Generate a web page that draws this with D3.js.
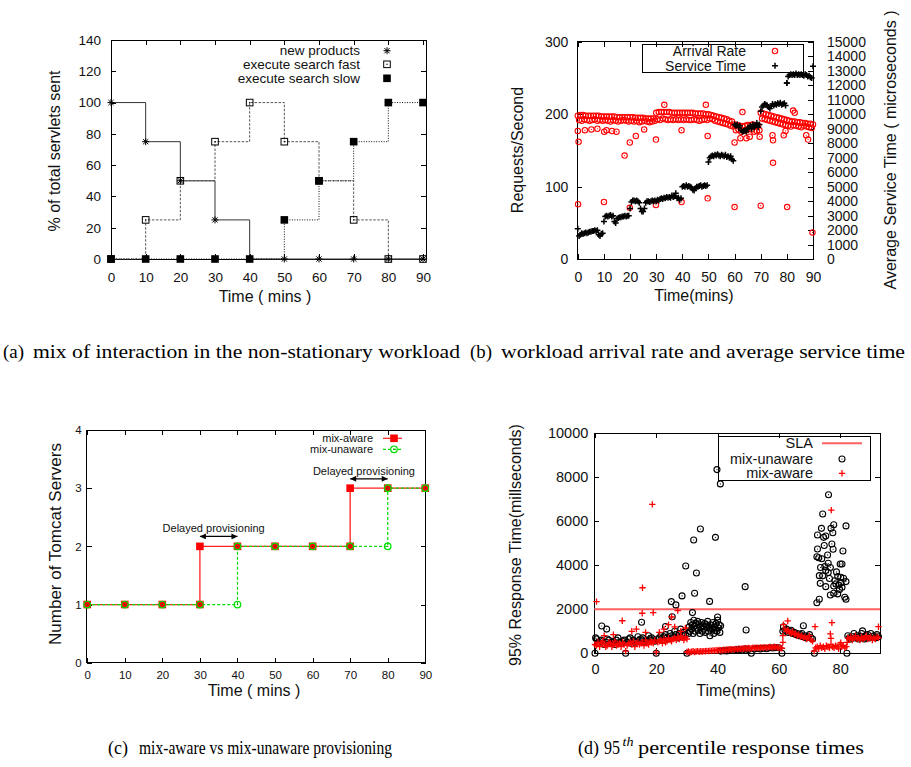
<!DOCTYPE html>
<html>
<head>
<meta charset="utf-8">
<script src="https://cdn.jsdelivr.net/npm/d3@7"></script>
<style>
body { margin: 0; background: #fff; }
svg { display: block; }
.frame { fill: none; stroke: #000; stroke-width: 1; shape-rendering: crispEdges; }
.ax path { display: none; }
.ax line { stroke: #000; shape-rendering: crispEdges; }
.ax text { fill: #111; }
</style>
</head>
<body>
<svg id="chart" width="911" height="767"></svg>
<script>
// ---------- (a) mix of interactions ----------
var mixTime     = [0, 10, 20, 30, 40, 50, 60, 70, 80, 90];
var newProducts = [100, 75, 50, 25, 0, 0, 0, 0, 0, 0];
var searchFast  = [0, 25, 50, 75, 100, 75, 50, 25, 0, 0];
var searchSlow  = [0, 0, 0, 0, 0, 25, 50, 75, 100, 100];
var pctTicks = [0, 20, 40, 60, 80, 100, 120, 140];
var minTicks = [0, 10, 20, 30, 40, 50, 60, 70, 80, 90];

// ---------- (b) arrival rate / service time ----------
// main band, one value per minute (0..90)
var arrivalMain = [198,199,199,198,198,198,198,198,198,197,
  197,197,197,197,197,196,196,196,196,196,
  196,196,195,195,195,195,194,194,194,194,
  202,203,203,203,203,203,202,202,202,202,
  202,202,202,202,202,201,201,201,201,200,
  200,199,198,197,196,195,194,193,191,190,
  186,185,184,183,184,185,185,186,185,184,
  202,201,200,199,198,197,196,195,194,193,
  192,191,190,190,189,189,188,188,187,187, 186];
// lower band, one value per minute (0.5..89.5)
var arrivalBand = [192,191,193,192,191,192,193,191,192,191,
  192,191,190,192,191,190,191,192,191,190,
  191,190,191,189,190,191,190,189,190,191,
  193,192,194,193,192,193,192,193,192,193,
  192,193,192,192,193,192,191,192,193,192,
  194,193,191,190,189,188,187,186,184,183,
  178,179,176,177,178,180,179,176,177,178,
  194,193,192,191,190,189,188,187,186,185,
  184,183,185,184,183,182,184,183,182,181];
// isolated arrival-rate samples [minute, req/s]
var arrivalOut = [[0.3,162],[0,177],[2.7,178],[5.2,179],[7.5,180],[10.1,176],[11,178],[13.1,177],
  [14.8,176],[17.9,143],[19.9,161],[22.2,170],[25.4,179],[29.9,165],[33.1,213],[39.7,178],
  [0.1,76],[10,79],[19.9,71],[29.9,75],[39.7,79],[49,213],[49.7,170],[49.7,84],[60,161],
  [60,72],[63,203],[70,74],[74.7,133],[74.5,171],[74.7,164],[80.1,72],[82.4,205],[83,202],
  [87.4,171],[88.1,165],[89.8,37],[62.2,167],[64.5,167],[65.8,169],[69.6,169],[78.8,171],[79.5,177]];
// average service time (microseconds), one value per half minute (0..90)
var serviceTime = [2100,1600,1700,1800,1750,1800,1850,1800,1850,1900,
  1900,1950,1950,2000,1950,2000,1700,1600,1750,1800,
  2600,2950,3000,2950,3000,3050,2950,3000,2600,2500,
  2800,2850,2900,2900,2950,2950,3000,2950,3000,3000,
  3500,3950,4050,4050,4000,4050,4000,3900,3500,3300,
  3300,3500,3900,4000,4000,3950,4000,4050,4000,4050,
  4000,4100,4050,4150,4200,4150,4250,4200,4300,4250,
  4300,4250,4400,4300,4350,4550,4200,4250,4100,4200,
  5000,5050,5000,5100,5000,5050,5000,4950,4800,4750,
  4900,5000,5000,5050,5100,5000,5050,5100,5050,5100,
  6700,7000,7100,7150,7100,7200,7150,7250,7150,7100,
  7200,7150,7100,7200,7050,7100,7000,7100,6900,6800,
  9300,9200,9300,9100,9200,8900,8800,8850,8900,8800,
  9000,9100,9200,9000,9300,9100,9200,9400,9100,9300,
  10200,10500,10600,10700,10650,10600,10500,10400,10550,10700,
  10600,10700,10650,10750,10700,10800,10650,10700,10750,10600,
  12150,12600,12700,12750,12700,12750,12700,12800,12700,12750,
  12700,12750,12700,12650,12750,12700,12600,12650,12550,12500,
  13300];
var reqTicks = [0, 100, 200, 300];
var svcTicks = [0,1000,2000,3000,4000,5000,6000,7000,8000,9000,10000,11000,12000,13000,14000,15000];

// ---------- (c) provisioning ----------
var awareTime      = [0, 10, 20, 30, 30, 40, 50, 60, 70, 70, 80, 90];
var awareServers   = [1, 1, 1, 1, 2, 2, 2, 2, 2, 3, 3, 3];
var unawareTime    = [0, 10, 20, 30, 40, 40, 50, 60, 70, 80, 80, 90];
var unawareServers = [1, 1, 1, 1, 1, 2, 2, 2, 2, 2, 3, 3];
var serverTicks = [0, 1, 2, 3, 4];

// ---------- (d) 95th percentile response times (ms) ----------
var slaLevel = 2000;
var unawareBase0 = [0,650,500,450,600,550,400,500,650,600,
  450,500,550,400,600,700,500,450,550,600,
  0,500,650,700,450,600,550,500,750,600,
  650,700,500,550,600,800,650,700,600,550,
  0,650,700,800,600,750,850,700,650,900,
  800,750,1000,850,700,900,1100,800,950,850, 0];          // 0..30 every 0.5
var unawareBurst1 = [900,1200,1000,1400,1100,1300,900,1500,1250,1000,
  1350,1150,1450,1050,1300,900,1200,1400,1000,1250,
  1100,1350,950,1300,1200,1450,1000,1150,800,1300,
  1250,1100,1400,900,1200,1050,1350,1000,1500,1150,
  1300,950,1250];                                          // 30.5..41 every 0.25
var unawareLow1 = [100,120,110,150,130,160,180,150,200,170,0,
  190,220,200,230,210,250,240,260,250,0];                  // 41..61 every 1
var unawareBase2 = [1200,1050,1100,950,1000,1050,900,950,850,900,
  800,850,900,750,800,700,750,850,700,650];                // 61.5..71 every 0.5
var unawareBase3 = [800,700,650,750,900,700,800,650,750,900,
  700,650,800,850,700,900,750,800,700,850,750];            // 82.5..92.5 every 0.5
var unawareScatter = [[0.2,700],[2.2,1240],[3.8,1100],[15.2,1410],[23,1220],[24.9,2350],[25.2,1660],
  [26.4,2200],[28.4,2610],[29.6,3970],[31.8,1850],[32.2,5150],[32.5,2730],[33.1,3650],[34.4,5650],
  [37.4,2360],[39.3,5270],[39.8,8350],[40,1650],[40.9,7700],[49,3030],[49.3,1060],[61.3,1000],
  [68,1250],[71.6,0],[82.2,0],[87.3,1020],
  [76.2,7210],[74.3,6330],[81.9,5790],[77.9,5840],[77,5680],[73.9,5680],[72.6,5380],[74.6,5270],
  [75.3,5330],[77.6,5480],[77.3,4970],[77.7,4730],[72.6,4740],[80.9,4650],[72.4,4390],[73,4340],
  [75.9,4470],[76.1,4090],[75,3940],[80,4060],[80.6,4060],[75.3,3760],[76.1,3670],[73.2,3530],
  [74.3,3520],[79.2,3490],[80.2,3460],[81.1,3410],[81.9,3260],[73.5,3180],[78.6,3150],[77.9,3060],
  [75.3,3030],[80.6,3000],[76.8,2650],[77.9,2730],[79.2,2700],[81.5,2550],[81.9,2460],[73.2,2460],
  [72.4,2300],[74,4300],[76.5,3400],[78.3,3300],[79.8,2900],[78.8,3700],[80.3,3200],[74.8,4900],
  [76.8,3900],[73.6,3900],[79.5,3100]];
var awareBase0 = [400,350,500,300,450,550,400,300,350,500,
  450,300,400,550,350,400,450,300,500,400,
  100,350,450,500,400,550,300,450,500,400,
  450,500,350,600,450,400,550,500,450,600,
  50,500,550,600,450,650,500,550,700,600,
  550,650,700,600,750,650,800,700,600,750, 650];           // 0..30 every 0.5
var awareLow1 = [60,80,50,70,90,60,80,100,70,90,
  80,100,90,110,100,120,110,130,120,140,
  130,150,140,130,160,150,170,160,180,170,
  190,180,200,190,210,200,220,210,230,220,
  240,230,220,250,240,260,250,240,270,260,
  250,280,260,270,290,280,260,300,280,270,
  250,240,230];                                            // 30..61 every 0.5
var awareBase2 = [1300,1100,1000,1050,950,900,1000,850,900,800,
  850,750,800,700,750,650,700,800,600,550];                // 61.5..71 every 0.5
var awareLow3 = [100,250,300,200,350,250,300,200,350,300,
  250,400,300,250,350,300,200,400,300,350,250,300];        // 71.5..82 every 0.5
var awareBase4 = [700,650,750,600,700,800,650,700,600,750,
  650,700,800,650,700,750,600,700,650,750,700];            // 82.5..92.5 every 0.5
var awareScatter = [[0.5,2350],[8.9,1480],[15.5,2980],[15.4,1820],[18.7,6770],[19,1850],[27,1940],
  [3,800],[6,850],[12,1000],[13.5,1100],[16.5,950],[21,950],[22.5,1100],[24,1300],[25,1650],
  [26,1200],[28,1000],[29.5,1150],[61.3,500],[61.3,800],[62.9,1470],[71.8,1210],[77.1,6510],
  [77.3,1390],[76.8,880],[77,680],[80.2,480],[82.3,500],[92.5,1210]];
var respTicks = [0, 2000, 4000, 6000, 8000, 10000];
var respMinTicks = [0, 20, 40, 60, 80];

// ---------------------------------------------------------------
var SANS = '"Liberation Sans", Arial, Helvetica, sans-serif';
var SERIF = '"Liberation Serif", "Times New Roman", serif';
var svg = d3.select("#chart");

function pts(t0, dt, vals) {
    return vals.map(function(v, i) { return [t0 + i * dt, v]; });
}
function zip(xs, ys) {
    return xs.map(function(x, i) { return [x, ys[i]]; });
}

// frame + inward ticks on all four sides
function axes(g, x, y, box, o) {
    var fmt = d3.format("d");
    g.append("g").attr("class", "ax").attr("transform", "translate(0," + box.b + ")")
        .call(d3.axisBottom(x).tickValues(o.xt).tickSize(-o.tick).tickSizeOuter(0).tickPadding(o.xpad).tickFormat(fmt));
    g.append("g").attr("class", "ax").attr("transform", "translate(0," + box.t + ")")
        .call(d3.axisTop(x).tickValues(o.xt).tickSize(-o.tick).tickSizeOuter(0).tickFormat(""));
    g.append("g").attr("class", "ax").attr("transform", "translate(" + box.l + ",0)")
        .call(d3.axisLeft(y).tickValues(o.yt).tickSize(-o.tick).tickSizeOuter(0).tickPadding(o.ypad).tickFormat(fmt));
    var r = g.append("g").attr("class", "ax").attr("transform", "translate(" + box.r + ",0)");
    if (o.y2) {
        r.call(d3.axisRight(o.y2).tickValues(o.y2t).tickSize(-o.tick).tickSizeOuter(0).tickPadding(o.y2pad).tickFormat(fmt));
    } else {
        r.call(d3.axisRight(y).tickValues(o.yt).tickSize(-o.tick).tickSizeOuter(0).tickFormat(""));
    }
    g.selectAll(".ax").attr("font-size", o.fs).attr("font-family", SANS);
    g.append("rect").attr("class", "frame")
        .attr("x", box.l).attr("y", box.t)
        .attr("width", box.r - box.l).attr("height", box.b - box.t);
}

function label(g, txt, x, y, fs, rot) {
    var t = g.append("text").text(txt)
        .attr("font-family", SANS).attr("font-size", fs).attr("fill", "#111")
        .attr("text-anchor", "middle").attr("dy", "0.35em");
    if (rot) t.attr("transform", "translate(" + x + "," + y + ") rotate(-90)");
    else t.attr("x", x).attr("y", y);
    return t;
}

// marker drawing
function mark(g, kind, cx, cy) {
    var m = g.append("g").attr("transform", "translate(" + cx + "," + cy + ")");
    if (kind === "star") {
        m.append("path").attr("d", "M-3.5,0H3.5M0,-3.5V3.5M-2.6,-2.6L2.6,2.6M-2.6,2.6L2.6,-2.6")
            .attr("stroke", "#000").attr("stroke-width", 1).attr("fill", "none");
    } else if (kind === "osq") {
        m.append("rect").attr("x", -3.3).attr("y", -3.3).attr("width", 6.6).attr("height", 6.6)
            .attr("fill", "none").attr("stroke", "#000").attr("stroke-width", 1);
        m.append("rect").attr("x", -0.6).attr("y", -0.6).attr("width", 1.2).attr("height", 1.2).attr("fill", "#000");
    } else if (kind === "fsq") {
        m.append("rect").attr("x", -3.8).attr("y", -3.8).attr("width", 7.6).attr("height", 7.6).attr("fill", "#000");
    } else if (kind === "rsq") {
        m.append("rect").attr("x", -3.8).attr("y", -3.8).attr("width", 7.6).attr("height", 7.6).attr("fill", "#ff0000");
    } else if (kind === "gcirc") {
        m.append("circle").attr("r", 3.3).attr("fill", "none").attr("stroke", "#00dd00").attr("stroke-width", 1.2);
        m.append("circle").attr("r", 0.7).attr("fill", "#008800");
    } else if (kind === "rcirc") {
        m.append("circle").attr("r", 2.7).attr("fill", "none").attr("stroke", "#ff0000").attr("stroke-width", 1.1);
        m.append("circle").attr("r", 0.6).attr("fill", "#ff0000");
    } else if (kind === "kcirc") {
        m.append("circle").attr("r", 3).attr("fill", "none").attr("stroke", "#000").attr("stroke-width", 1.1);
        m.append("circle").attr("r", 0.6).attr("fill", "#000");
    } else if (kind === "kplus") {
        m.append("path").attr("d", "M-3,0H3M0,-3V3").attr("stroke", "#000").attr("stroke-width", 1.5);
    } else if (kind === "rplus") {
        m.append("path").attr("d", "M-3.2,0H3.2M0,-3.2V3.2").attr("stroke", "#ff0000").attr("stroke-width", 1.3);
    }
}
function marks(g, data, x, y, kind) {
    data.forEach(function(d) { mark(g, kind, x(d[0]), y(d[1])); });
}

// ======================= (a) =======================
(function() {
    var g = svg.append("g");
    var box = { l: 111, r: 426, t: 40, b: 259 };
    var x = d3.scaleLinear().domain([0, 90]).range([111, 423]);
    var y = d3.scaleLinear().domain([0, 140]).range([259, 40]);
    axes(g, x, y, box, { xt: minTicks, yt: pctTicks, tick: 5, xpad: 13, ypad: 10, fs: 13.5 });

    var step = d3.line().x(function(d) { return x(d[0]); }).y(function(d) { return y(d[1]); }).curve(d3.curveStepAfter);
    var series = [
        { name: "new products", v: newProducts, dash: null, col: "#333", m: "star" },
        { name: "execute search fast", v: searchFast, dash: "2.5,1.5", col: "#555", m: "osq" },
        { name: "execute search slow", v: searchSlow, dash: "1,1.5", col: "#111", m: "fsq" }
    ];
    series.forEach(function(s) {
        g.append("path").attr("d", step(zip(mixTime, s.v)))
            .attr("fill", "none").attr("stroke", s.col).attr("stroke-width", 1)
            .attr("stroke-dasharray", s.dash);
    });
    series.forEach(function(s) { marks(g, zip(mixTime, s.v), x, y, s.m); });

    var rows = [50.7, 64.3, 78.3];
    series.forEach(function(s, i) {
        g.append("text").text(s.name).attr("x", 360).attr("y", rows[i]).attr("dy", "0.35em")
            .attr("text-anchor", "end").attr("font-family", SANS).attr("font-size", 13.5).attr("fill", "#111");
        mark(g, s.m, 387, rows[i]);
    });
    label(g, "Time ( mins )", 265, 296, 16);
    label(g, "% of total servlets sent", 54, 151, 16, true);
})();

// ======================= (b) =======================
(function() {
    var g = svg.append("g");
    var box = { l: 577.3, r: 813, t: 41.7, b: 259.3 };
    var x = d3.scaleLinear().domain([0, 90]).range([577.8, 813]);
    var y = d3.scaleLinear().domain([0, 300]).range([259.3, 41.7]);
    var y2 = d3.scaleLinear().domain([0, 15000]).range([259.3, 41.7]);
    axes(g, x, y, box, { xt: minTicks, yt: reqTicks, tick: 5, xpad: 12.5, ypad: 9, fs: 14,
        y2: y2, y2t: svcTicks, y2pad: 14 });

    var arr = pts(0, 1, arrivalMain).concat(pts(0.5, 1, arrivalBand)).concat(arrivalOut);
    marks(g, arr, x, y, "rcirc");
    marks(g, pts(0, 0.5, serviceTime).concat([[80, 12150]]), x, y2, "kplus");

    g.append("rect").attr("class", "frame").attr("x", 642).attr("y", 44).attr("width", 161).attr("height", 28.7)
        .attr("fill", "#fff");
    [["Arrival Rate", "rcirc", 51], ["Service Time", "kplus", 65.7]].forEach(function(r) {
        g.append("text").text(r[0]).attr("x", 746).attr("y", r[2]).attr("dy", "0.35em")
            .attr("text-anchor", "end").attr("font-family", SANS).attr("font-size", 14).attr("fill", "#111");
        mark(g, r[1], 775, r[2]);
    });
    label(g, "Time(mins)", 694, 295, 16);
    label(g, "Requests/Second", 517, 150, 16, true);
    label(g, "Average Service Time ( microseconds )", 890, 150, 16, true);
})();

// ======================= (c) =======================
(function() {
    var g = svg.append("g");
    var box = { l: 86.7, r: 425.7, t: 430, b: 662.7 };
    var x = d3.scaleLinear().domain([0, 90]).range([87.2, 425.3]);
    var y = d3.scaleLinear().domain([0, 4]).range([662.7, 430]);
    axes(g, x, y, box, { xt: minTicks, yt: serverTicks, tick: 5, xpad: 8.5, ypad: 5, fs: 11.5 });

    var line = d3.line().x(function(d) { return x(d[0]); }).y(function(d) { return y(d[1]); });
    var aware = zip(awareTime, awareServers), unaware = zip(unawareTime, unawareServers);
    g.append("path").attr("d", line(aware)).attr("fill", "none").attr("stroke", "#ff2020").attr("stroke-width", 1.3);
    g.append("path").attr("d", line(unaware)).attr("fill", "none").attr("stroke", "#00dd00")
        .attr("stroke-width", 1.2).attr("stroke-dasharray", "3,2");
    marks(g, aware, x, y, "rsq");
    marks(g, unaware, x, y, "gcirc");

    // legend
    var lg = [["mix-aware", "#ff2020", null, "rsq", 438.3], ["mix-unaware", "#00dd00", "3,2", "gcirc", 449.3]];
    lg.forEach(function(r) {
        g.append("text").text(r[0]).attr("x", 373).attr("y", r[4]).attr("dy", "0.35em")
            .attr("text-anchor", "end").attr("font-family", SANS).attr("font-size", 11).attr("fill", "#111");
        g.append("line").attr("x1", 383).attr("x2", 402).attr("y1", r[4]).attr("y2", r[4])
            .attr("stroke", r[1]).attr("stroke-width", 1.2).attr("stroke-dasharray", r[2]);
        mark(g, r[3], 394, r[4]);
    });

    // delayed provisioning arrows
    var defs = svg.append("defs");
    defs.append("marker").attr("id", "ah").attr("viewBox", "0 0 10 10").attr("refX", 10).attr("refY", 5)
        .attr("markerWidth", 7).attr("markerHeight", 6).attr("markerUnits", "userSpaceOnUse")
        .attr("orient", "auto-start-reverse")
        .append("path").attr("d", "M0,0L10,5L0,10z").attr("fill", "#000");
    [[30, 40, 2.17, 2.31], [70, 80, 3.16, 3.29]].forEach(function(a) {
        g.append("line").attr("x1", x(a[0])).attr("x2", x(a[1])).attr("y1", y(a[2])).attr("y2", y(a[2]))
            .attr("stroke", "#000").attr("stroke-width", 1.2)
            .attr("marker-start", "url(#ah)").attr("marker-end", "url(#ah)");
        g.append("text").text("Delayed provisioning").attr("x", x((a[0] + a[1]) / 2) - 5).attr("y", y(a[3]))
            .attr("dy", "0.35em").attr("text-anchor", "middle")
            .attr("font-family", SANS).attr("font-size", 11).attr("fill", "#111");
    });
    label(g, "Time ( mins )", 254, 690, 16);
    label(g, "Number of Tomcat Servers", 55, 544, 17, true);
})();

// ======================= (d) =======================
(function() {
    var g = svg.append("g");
    var box = { l: 594.3, r: 880, t: 433.3, b: 653.3 };
    var x = d3.scaleLinear().domain([0, 93]).range([595, 880]);
    var y = d3.scaleLinear().domain([0, 10000]).range([653.3, 433.3]);
    axes(g, x, y, box, { xt: respMinTicks, yt: respTicks, tick: 5, xpad: 10, ypad: 6, fs: 14.5 });

    g.append("line").attr("x1", box.l).attr("x2", box.r).attr("y1", y(slaLevel)).attr("y2", y(slaLevel))
        .attr("stroke", "#ff6060").attr("stroke-width", 2);

    var unaware = pts(0, 0.5, unawareBase0).concat(pts(30.5, 0.25, unawareBurst1))
        .concat(pts(41, 1, unawareLow1)).concat(pts(61.5, 0.5, unawareBase2))
        .concat(pts(82.5, 0.5, unawareBase3)).concat(unawareScatter);
    var aware = pts(0, 0.5, awareBase0).concat(pts(30, 0.5, awareLow1))
        .concat(pts(61.5, 0.5, awareBase2)).concat(pts(71.5, 0.5, awareLow3))
        .concat(pts(82.5, 0.5, awareBase4)).concat(awareScatter);
    marks(g, unaware, x, y, "kcirc");
    marks(g, aware, x, y, "rplus");

    g.append("rect").attr("class", "frame").attr("x", 718).attr("y", 436).attr("width", 152).attr("height", 44)
        .attr("fill", "#fff");
    var rows = [["SLA", null, 443.3], ["mix-unaware", "kcirc", 459], ["mix-aware", "rplus", 473.3]];
    rows.forEach(function(r) {
        g.append("text").text(r[0]).attr("x", 813).attr("y", r[2]).attr("dy", "0.35em")
            .attr("text-anchor", "end").attr("font-family", SANS).attr("font-size", 14.5).attr("fill", "#111");
        if (r[1]) mark(g, r[1], 842, r[2]);
        else g.append("line").attr("x1", 822).attr("x2", 862).attr("y1", r[2]).attr("y2", r[2])
            .attr("stroke", "#ff6060").attr("stroke-width", 2);
    });
    label(g, "Time(mins)", 736, 690, 16);
    label(g, "95% Response Time(millseconds)", 515, 545, 16, true);
})();

// ======================= captions =======================
function cap(txt, x, y, w, opts) {
    var t = svg.append("text").text(txt).attr("x", x).attr("y", y)
        .attr("font-family", SERIF).attr("font-size", (opts && opts.fs) || 19.5).attr("fill", "#000");
    if (w) t.attr("textLength", w).attr("lengthAdjust", "spacingAndGlyphs");
    if (opts && opts.italic) t.attr("font-style", "italic");
    return t;
}
cap("(a)", 3, 358, 21);
cap("mix of interaction in the non-stationary workload", 33, 358, 427);
cap("(b)", 470, 358, 22);
cap("workload arrival rate and average service time", 501, 358, 404);
cap("(c)", 108, 754, 20);
cap("mix-aware vs mix-unaware provisioning", 139, 754, 253);
cap("(d)", 578, 754, 21);
cap("95", 604, 754, 16);
cap("th", 622.5, 746, 11, { fs: 12, italic: true });
cap("percentile response times", 638, 754, 226);
</script>
</body>
</html>
